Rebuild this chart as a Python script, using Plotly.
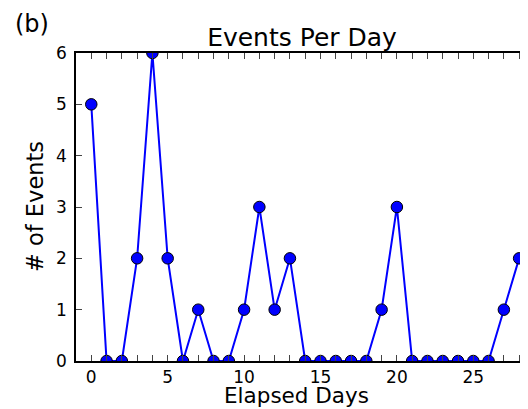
import plotly.graph_objects as go

days = list(range(29))
events = [5, 0, 0, 2, 6, 2, 0, 1, 0, 0, 1, 3, 1, 2, 0, 0, 0, 0, 0, 1, 3, 0, 0, 0, 0, 0, 0, 1, 2]
x_tick_vals = list(range(29))
x_tick_text = [str(v) if v % 5 == 0 else "" for v in x_tick_vals]
y_tick_vals = [0, 1, 2, 3, 4, 5, 6]

# page body has an 8px margin; work in figure pixels = reference pixels - 8
OFF = 8
W, H = 528 - OFF, 409 - OFF
L, T = 76 - OFF, 53 - OFF
B = H - (361 - OFF)
R = 0
pw, ph = W - L - R, H - T - B

fig = go.Figure()
fig.add_trace(go.Scatter(
    x=days, y=events, mode="lines+markers",
    line=dict(color="#0000ff", width=2),
    marker=dict(color="#0000ff", size=11.5, line=dict(color="black", width=1)),
    cliponaxis=True, showlegend=False,
))

font = "DejaVu Sans, Verdana, sans-serif"
fig.update_layout(
    width=W, height=H,
    margin=dict(l=L, r=R, t=T, b=B, pad=0),
    paper_bgcolor="white", plot_bgcolor="white",
    font=dict(family=font, color="black", size=17),
    title=dict(text="Events Per Day", x=(302 - OFF) / W, xanchor="center",
               y=1 - (37 - OFF) / H, yanchor="middle", font=dict(size=25)),
    xaxis=dict(range=[-1, 28.58], tickvals=x_tick_vals, ticktext=x_tick_text,
               ticks="inside", ticklen=6, tickwidth=1, tickcolor="#444",
               showline=True, linecolor="black", linewidth=1.5, mirror="ticks",
               showgrid=False, zeroline=False, tickfont=dict(size=17)),
    yaxis=dict(range=[0, 6], tickvals=y_tick_vals,
               ticks="inside", ticklen=6, tickwidth=1, tickcolor="#444",
               showline=True, linecolor="black", linewidth=1.5, mirror=False,
               showgrid=False, zeroline=False, tickfont=dict(size=17),
               ticklabelstandoff=4),
    annotations=[
        dict(text="(b)", xref="paper", yref="paper", x=(13 - OFF - L) / pw,
             y=(H - B - (24 - OFF)) / ph,
             xanchor="left", yanchor="middle", showarrow=False, font=dict(size=24)),
        dict(text="# of Events", xref="paper", yref="paper", x=(35 - OFF - L) / pw, y=0.5,
             xanchor="center", yanchor="middle", textangle=-90, showarrow=False,
             font=dict(size=22.5)),
        dict(text="Elapsed Days", xref="paper", yref="paper", x=(296 - OFF - L) / pw,
             y=-(395 - OFF - (H - B)) / ph, xanchor="center", yanchor="middle",
             showarrow=False, font=dict(size=21.5)),
    ],
)

fig.write_html("out.html")
